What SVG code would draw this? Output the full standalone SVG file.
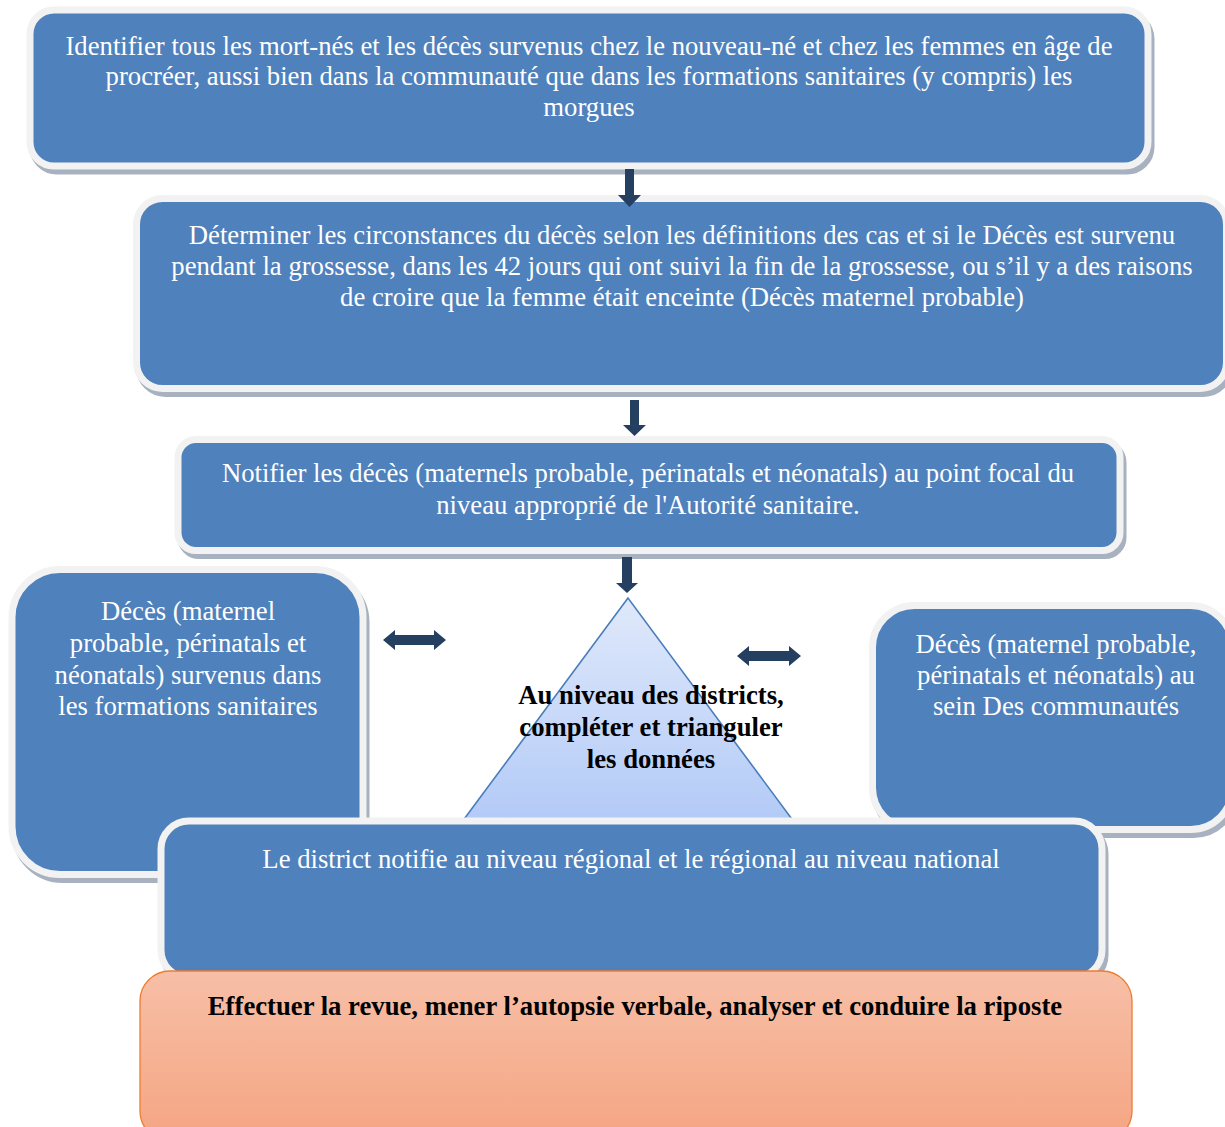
<svg xmlns="http://www.w3.org/2000/svg" width="1225" height="1127" viewBox="0 0 1225 1127">
  <defs>
    <linearGradient id="triFill" x1="0" y1="0" x2="0" y2="1">
      <stop offset="0" stop-color="#e0e9fb"/>
      <stop offset="1" stop-color="#b1c9f7"/>
    </linearGradient>
    <linearGradient id="orangeFill" x1="0" y1="0" x2="0" y2="1">
      <stop offset="0" stop-color="#f7bfa7"/>
      <stop offset="1" stop-color="#f5a582"/>
    </linearGradient>
  </defs>
  <style>
    .sh { fill: #a7b1bf; stroke: #a7b1bf; stroke-width: 7; }
    .box { fill: #4f81bd; stroke: #f2f2f2; stroke-width: 7; }
    .t { font-family: "Liberation Serif", "Times New Roman", serif; font-size: 26.7px; fill: #ffffff; text-anchor: middle; }
    .tb { font-family: "Liberation Serif", "Times New Roman", serif; font-size: 26.7px; font-weight: bold; fill: #000000; text-anchor: middle; }
    .arr { fill: #243f60; }
  </style>

  <!-- step 1 -->
  <g id="identifier">
    <rect class="sh" x="33" y="15" width="1118" height="156" rx="24"/>
    <rect class="box" x="30" y="10" width="1118" height="156" rx="24"/>
    <text class="t" x="589" y="55">Identifier tous les mort-nés et les décès survenus chez le nouveau-né et chez les femmes en âge de</text>
    <text class="t" x="589" y="85">procréer, aussi bien dans la communauté que dans les formations sanitaires (y compris) les</text>
    <text class="t" x="589" y="116">morgues</text>
  </g>

  <!-- step 2 -->
  <g id="determiner">
    <rect class="sh" x="139.5" y="203.5" width="1090" height="190" rx="26"/>
    <rect class="box" x="136.5" y="198.5" width="1090" height="190" rx="26"/>
    <text class="t" x="682" y="244">Déterminer les circonstances du décès selon les définitions des cas et si le Décès est survenu</text>
    <text class="t" x="682" y="275">pendant la grossesse, dans les 42 jours qui ont suivi la fin de la grossesse, ou s’il y a des raisons</text>
    <text class="t" x="682" y="306">de croire que la femme était enceinte (Décès maternel probable)</text>
  </g>

  <!-- step 3 -->
  <g id="notifier">
    <rect class="sh" x="181" y="444.5" width="942" height="111" rx="18"/>
    <rect class="box" x="178" y="439.5" width="942" height="111" rx="18"/>
    <text class="t" x="648" y="482">Notifier les décès (maternels probable, périnatals et néonatals) au point focal du</text>
    <text class="t" x="648" y="514">niveau approprié de l'Autorité sanitaire.</text>
  </g>

  <!-- deaths in health facilities -->
  <g id="formations">
    <rect class="sh" x="15" y="574.5" width="351" height="305" rx="48"/>
    <rect class="box" x="12" y="569.5" width="351" height="305" rx="48"/>
    <text class="t" x="188" y="620">Décès (maternel</text>
    <text class="t" x="188" y="652">probable, périnatals et</text>
    <text class="t" x="188" y="684">néonatals) survenus dans</text>
    <text class="t" x="188" y="715">les formations sanitaires</text>
  </g>

  <!-- deaths in communities -->
  <g id="communautes">
    <rect class="sh" x="875.5" y="610.5" width="360" height="224" rx="42"/>
    <rect class="box" x="872.5" y="605.5" width="360" height="224" rx="42"/>
    <text class="t" x="1056" y="653">Décès (maternel probable,</text>
    <text class="t" x="1056" y="684">périnatals et néonatals) au</text>
    <text class="t" x="1056" y="715">sein Des communautés</text>
  </g>

  <!-- district triangulation -->
  <g id="trianguler">
    <polygon points="628,598 456,830 800,830" fill="url(#triFill)" stroke="#4a7ebb" stroke-width="1.6"/>
    <text class="tb" x="651" y="704">Au niveau des districts,</text>
    <text class="tb" x="651" y="736">compléter et trianguler</text>
    <text class="tb" x="651" y="768">les données</text>
  </g>

  <!-- connectors -->
  <g id="connectors">
    <polygon class="arr" points="625,169 634,169 634,195 641,195 629.5,207 618,195 625,195"/>
    <polygon class="arr" points="630,400 639,400 639,425 646,425 634.5,436 623,425 630,425"/>
    <polygon class="arr" points="622,557 632,557 632,583 638,583 627,593 616,583 622,583"/>
    <polygon class="arr" points="383,640 395,630 395,635 434,635 434,630 446,640 434,650 434,645 395,645 395,650"/>
    <polygon class="arr" points="737,656 749,646 749,651 789,651 789,646 801,656 789,666 789,661 749,661 749,666"/>
  </g>

  <!-- district notification -->
  <g id="district">
    <rect class="sh" x="164" y="826" width="941" height="157" rx="28"/>
    <rect class="box" x="161" y="821" width="941" height="157" rx="28"/>
    <text class="t" x="631" y="868">Le district notifie au niveau régional et le régional au niveau national</text>
  </g>

  <!-- review and response -->
  <g id="riposte">
    <rect x="140" y="971" width="992" height="170" rx="30" fill="url(#orangeFill)" stroke="#ed7d31" stroke-width="1.3"/>
    <text class="tb" x="635" y="1015">Effectuer la revue, mener l’autopsie verbale, analyser et conduire la riposte</text>
  </g>
</svg>
